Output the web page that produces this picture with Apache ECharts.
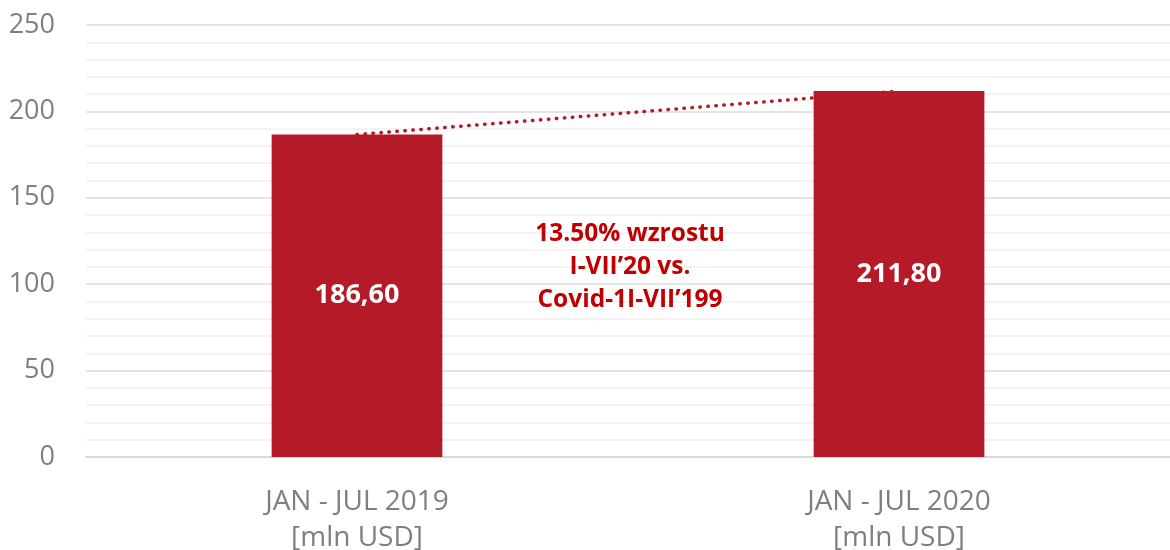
<!DOCTYPE html>
<html>
<head>
<meta charset="utf-8">
<script src="https://cdn.jsdelivr.net/npm/echarts@6/dist/echarts.min.js"></script>
<style>
  html, body { margin: 0; padding: 0; background: #fff; }
  #chart { width: 1170px; height: 550px; }
</style>
</head>
<body>
<div id="chart"></div>
<script>
// dane z wykresu
var categories = ['JAN - JUL 2019\n[mln USD]', 'JAN - JUL 2020\n[mln USD]'];
var values = [186.6, 211.8];
var yTicks = [0, 50, 100, 150, 200, 250];
var noteLines = ['13.50% wzrostu', 'I-VII\u201920 vs.', 'Covid-1I-VII\u2019199'];

var chart = echarts.init(document.getElementById('chart'));

chart.setOption({
  backgroundColor: '#fff',
  animation: false,
  grid: { left: 86, right: 0, top: 25, bottom: 93, outerBoundsMode: 'none' },
  xAxis: {
    type: 'category',
    data: categories,
    axisTick: { show: false },
    axisLine: { lineStyle: { color: '#d9d9d9', width: 2 } },
    axisLabel: {
      color: '#7f7f7f',
      fontSize: 28,
      lineHeight: 36,
      fontFamily: 'Open Sans',
      margin: 27
    }
  },
  yAxis: {
    type: 'value',
    min: yTicks[0],
    max: yTicks[yTicks.length - 1],
    interval: 50,
    axisLine: { show: false },
    axisTick: { show: false },
    axisLabel: {
      color: '#7f7f7f',
      fontSize: 27,
      fontFamily: 'Open Sans',
      margin: 31
    },
    splitLine: { lineStyle: { color: '#e4e4e4', width: 2 } },
    minorTick: { show: false, splitNumber: 5 },
    minorSplitLine: { show: true, lineStyle: { color: '#f3f3f3', width: 2 } }
  },
  series: [{
    type: 'bar',
    data: values,
    barWidth: '31.5%',
    itemStyle: { color: '#b51a29' },
    label: {
      show: true,
      position: 'inside',
      color: '#fff',
      fontSize: 27,
      fontWeight: 'bold',
      fontFamily: 'Open Sans',
      formatter: function (p) {
        return p.value.toFixed(2).replace('.', ',');
      }
    },
    z: 2
  }, {
    // przerywana linia trendu
    type: 'line',
    data: values,
    symbol: 'none',
    lineStyle: { color: '#b51a29', width: 3.5, type: [0.5, 7.5], cap: 'round' },
    z: 3
  }],
  graphic: [{
    type: 'text',
    x: 630,
    y: 218,
    z: 100,
    style: {
      text: noteLines.join('\n'),
      align: 'center',
      fill: '#c00000',
      fontSize: 24.5,
      lineHeight: 33,
      fontWeight: 'bold',
      fontFamily: 'Open Sans'
    }
  }]
});
</script>
</body>
</html>
